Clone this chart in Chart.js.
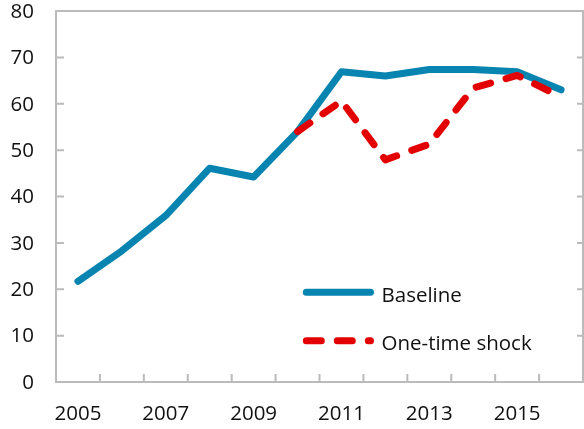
<!DOCTYPE html>
<html>
<head>
<meta charset="utf-8">
<script src="https://cdn.jsdelivr.net/npm/chart.js@4.4.1/dist/chart.umd.min.js"></script>
<style>
  html, body { margin: 0; padding: 0; background: #ffffff; }
  #wrap { width: 584px; height: 429px; position: relative; }
</style>
</head>
<body>
<div id="wrap"><canvas id="chart" width="584" height="429"></canvas></div>
<script>
// Years on the horizontal axis
const years = ['2005', '2006', '2007', '2008', '2009', '2010', '2011', '2012', '2013', '2014', '2015', '2016'];
// Baseline path
const baseline = [21.7, 28.3, 35.9, 46.1, 44.2, 54.0, 66.9, 66.0, 67.4, 67.4, 66.9, 63.0];
// Path after a one-time shock (starts in 2010)
const shock = [null, null, null, null, null, 54.0, 60.6, 47.9, 51.3, 63.4, 66.1, 61.5];
// Value axis ticks
const yTicks = [0, 10, 20, 30, 40, 50, 60, 70, 80];
const seriesNames = ['Baseline', 'One-time shock'];

const BLUE = '#0784B0';
const RED = '#E30000';
const FRAME = '#BBBBBB';
const TEXT = '#111111';
const FONT = { family: '"Open Sans", sans-serif', size: 20.5, lineHeight: 1 };

// Plot frame with inward tick marks
const framePlugin = {
  id: 'frame',
  beforeDatasetsDraw(chart) {
    const { ctx, chartArea: a, scales: { x, y } } = chart;
    ctx.save();
    ctx.strokeStyle = FRAME;
    ctx.lineWidth = 2;
    ctx.strokeRect(a.left, a.top, a.right - a.left, a.bottom - a.top);
    ctx.beginPath();
    yTicks.slice(1, -1).forEach(v => {
      const py = y.getPixelForValue(v);
      ctx.moveTo(a.left, py); ctx.lineTo(a.left + 8, py);
      ctx.moveTo(a.right, py); ctx.lineTo(a.right - 6, py);
    });
    for (let i = 1; i < years.length; i++) {
      const px = (x.getPixelForValue(i - 1) + x.getPixelForValue(i)) / 2;
      ctx.moveTo(px, a.bottom); ctx.lineTo(px, a.bottom - 8);
    }
    ctx.stroke();
    ctx.restore();
  }
};

// Legend placed inside the plot area
const legendPlugin = {
  id: 'innerLegend',
  afterDatasetsDraw(chart) {
    const { ctx } = chart;
    const rows = [
      { ds: chart.data.datasets[1], y: 292.3, textY: 301.7 },
      { ds: chart.data.datasets[0], y: 340.7, textY: 349.8 }
    ];
    ctx.save();
    rows.forEach(r => {
      ctx.strokeStyle = r.ds.borderColor;
      ctx.lineWidth = r.ds.borderWidth;
      ctx.lineCap = 'round';
      ctx.setLineDash(r.ds.borderDash || []);
      ctx.beginPath();
      ctx.moveTo(306.3, r.y);
      ctx.lineTo(370.5, r.y);
      ctx.stroke();
      ctx.setLineDash([]);
      ctx.fillStyle = TEXT;
      ctx.font = `${FONT.size}px ${FONT.family}`;
      ctx.textAlign = 'left';
      ctx.textBaseline = 'alphabetic';
      ctx.fillText(r.ds.label, 381.5, r.textY);
    });
    ctx.restore();
  }
};

new Chart(document.getElementById('chart'), {
  type: 'line',
  data: {
    labels: years,
    datasets: [
      {
        label: seriesNames[1],
        data: shock,
        borderColor: RED,
        borderWidth: 7,
        borderDash: [15, 16],
        borderCapStyle: 'round',
        borderJoinStyle: 'round',
        pointRadius: 0,
        tension: 0,
        spanGaps: false,
        order: 0
      },
      {
        label: seriesNames[0],
        data: baseline,
        borderColor: BLUE,
        borderWidth: 7,
        borderCapStyle: 'round',
        borderJoinStyle: 'round',
        pointRadius: 0,
        tension: 0,
        order: 1
      }
    ]
  },
  options: {
    responsive: false,
    devicePixelRatio: 1,
    animation: false,
    layout: { padding: { top: 11, right: 1, left: 0, bottom: 0 } },
    plugins: { legend: { display: false }, tooltip: { enabled: false } },
    scales: {
      x: {
        type: 'category',
        offset: true,
        grid: { display: false, drawTicks: false },
        border: { display: false },
        ticks: {
          autoSkip: false,
          maxRotation: 0,
          padding: 22,
          color: TEXT,
          font: FONT,
          callback: (v, i) => (i % 2 === 0 ? years[i] : '')
        },
        afterFit: s => { s.height = 47; s.paddingLeft = 0; s.paddingRight = 0; }
      },
      y: {
        min: 0,
        max: 80,
        grid: { display: false, drawTicks: false },
        border: { display: false },
        ticks: {
          stepSize: 10,
          padding: 22,
          labelOffset: 1,
          color: TEXT,
          font: FONT
        },
        afterBuildTicks: s => { s.ticks = yTicks.map(v => ({ value: v })); },
        afterFit: s => { s.width = 56; s.paddingTop = 0; s.paddingBottom = 0; }
      }
    }
  },
  plugins: [framePlugin, legendPlugin]
});
</script>
</body>
</html>
